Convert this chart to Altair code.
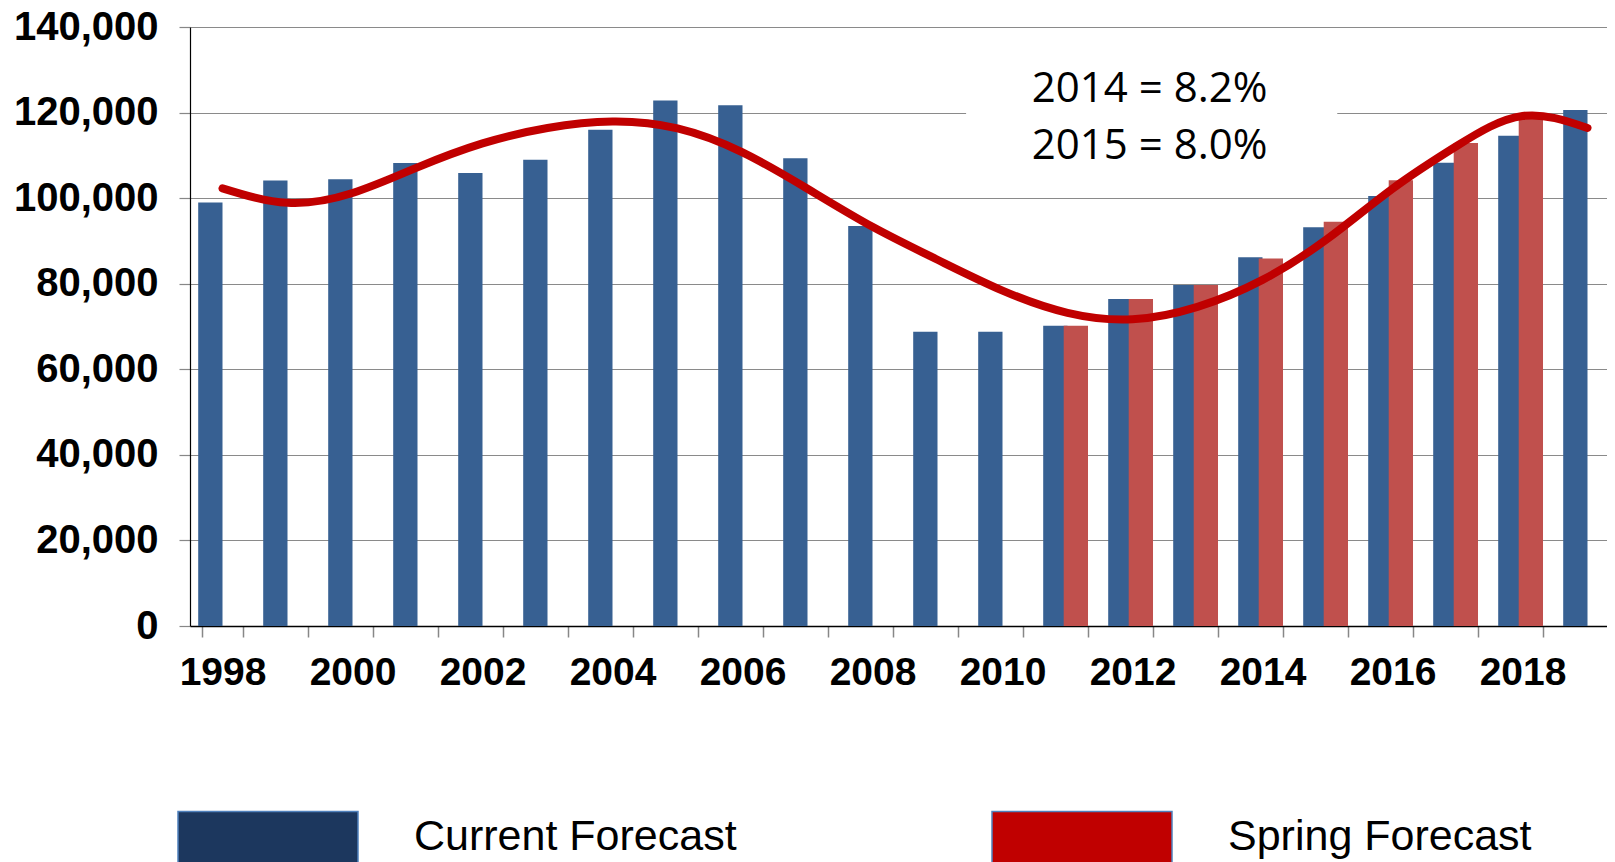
import altair as alt
import pandas as pd

# ---------------- data ----------------
years = list(range(1998, 2020))
current_forecast = [99000, 104100, 104400, 108200, 105900, 109000, 116000, 122800,
                    121700, 109300, 93500, 68800, 68800, 70200, 76400, 79700,
                    86200, 93200, 100500, 108300, 114600, 120600]
spring_forecast = [None] * 13 + [70200, 76400, 79700, 85900, 94500, 104200,
                                 112900, 119700, None]
trend_values = [102300, 98900, 101200, 107200, 112800, 116400, 117900, 116300,
                110700, 102200, 93300, 85600, 78400, 73200, 71700, 74600,
                80900, 90500, 102200, 112300, 119200, 116400]
series_names = ["Current", "Spring"]
legend_names = ["Current Forecast", "Spring Forecast"]
note_lines = ["2014 = 8.2%", "2015 = 8.0%"]
y_ticks = [0, 20000, 40000, 60000, 80000, 100000, 120000, 140000]

# ---------------- tables ----------------
rows = []
for yr, c, s in zip(years, current_forecast, spring_forecast):
    rows.append({"year": yr, "series": "Current", "value": c})
    if s is not None:
        rows.append({"year": yr, "series": "Spring", "value": s})
bars_df = pd.DataFrame(rows)
trend_df = pd.DataFrame({"year": years, "value": trend_values})

# ---------------- scales / axes ----------------
x_scale = alt.Scale(domain=years, range=[0, 1430], paddingInner=0.369, paddingOuter=0.1845)
y_scale = alt.Scale(domain=[0, 140000], nice=False, zero=True)
slot_scale = alt.Scale(domain=[0, 22], range=[0, 1430], nice=False, zero=False)

y_axis = alt.Axis(
    title=None, values=y_ticks, format=",d",
    labelFont="Liberation Sans", labelFontWeight="bold", labelFontSize=40,
    labelColor="#000000", labelPadding=21,
    tickSize=11, tickColor="#878787", tickWidth=1.2,
    domainColor="#000000", domainWidth=1.2,
    grid=True, gridColor="#8a8a8a", gridWidth=1.2,
)
x_axis = alt.Axis(
    title=None, labelAngle=0, labelOverlap=False,
    labelExpr="datum.value % 2 == 0 ? datum.label : ''",
    labelFont="Liberation Sans", labelFontWeight="bold", labelFontSize=39,
    labelColor="#000000", labelPadding=16,
    tickSize=11, tickColor="#878787", tickWidth=1.5, tickBand="extent",
    domainColor="#000000", domainWidth=1.5, grid=False,
)

# ---------------- layers ----------------
note_box = alt.Chart(pd.DataFrame({"x0": [11.94], "x1": [17.65],
                                   "y0": [104000], "y1": [135000]})).mark_rect(
    color="white"
).encode(
    x=alt.X("x0:Q", scale=slot_scale, axis=None),
    x2="x1:Q",
    y=alt.Y("y0:Q", scale=y_scale, axis=y_axis),
    y2="y1:Q",
)

bars = alt.Chart(bars_df).mark_bar(width=alt.RelativeBandSize(1.185)).encode(
    x=alt.X("year:O", scale=x_scale, axis=x_axis),
    xOffset=alt.XOffset("series:N", scale=alt.Scale(domain=series_names,
                                                    paddingInner=0, paddingOuter=0)),
    y=alt.Y("value:Q", scale=y_scale, axis=y_axis),
    color=alt.Color("series:N", scale=alt.Scale(domain=series_names,
                                                range=["#376092", "#C0504D"]),
                    legend=None),
)

trend = alt.Chart(trend_df).mark_line(
    color="#C00000", strokeWidth=8, interpolate="natural", strokeCap="round"
).encode(
    x=alt.X("year:O", scale=x_scale, axis=None),
    y=alt.Y("value:Q", scale=y_scale, axis=y_axis),
)

note_text = alt.Chart(pd.DataFrame({"line": note_lines, "xs": [12.95, 12.95],
                                    "value": [122500, 109100]})).mark_text(
    align="left", baseline="alphabetic", font="Open Sans", fontSize=42, color="#000000"
).encode(
    x=alt.X("xs:Q", scale=slot_scale, axis=None),
    y=alt.Y("value:Q", scale=y_scale, axis=y_axis),
    text="line:N",
)

legend_layer = alt.Chart(pd.DataFrame({"name": legend_names})).mark_square(size=0).encode(
    fill=alt.Fill(
        "name:N",
        scale=alt.Scale(domain=legend_names, range=["#1C375E", "#C00000"]),
        legend=alt.Legend(
            title=None, orient="none", legendX=-13, legendY=719,
            direction="horizontal", columns=2, padding=0,
            symbolType="M-1,-0.282L1,-0.282L1,0.5L-1,0.5Z", symbolSize=32400,
            symbolStrokeColor="#4F81BD", symbolStrokeWidth=1.5, symbolOpacity=1,
            labelFont="Liberation Sans", labelFontSize=43, labelColor="#000000",
            labelOffset=55, labelLimit=800, columnPadding=252,
        ),
    )
)

chart = alt.layer(note_box, bars, trend, note_text, legend_layer).resolve_scale(
    x="independent"
).properties(
    width=1417, height=599,
    padding={"left": 182, "top": 19, "right": 0, "bottom": 236},
    autosize=alt.AutoSizeParams(type="none"),
).configure_view(stroke=None)

chart.save("out.html", embed_options={"renderer": "svg", "actions": False})
